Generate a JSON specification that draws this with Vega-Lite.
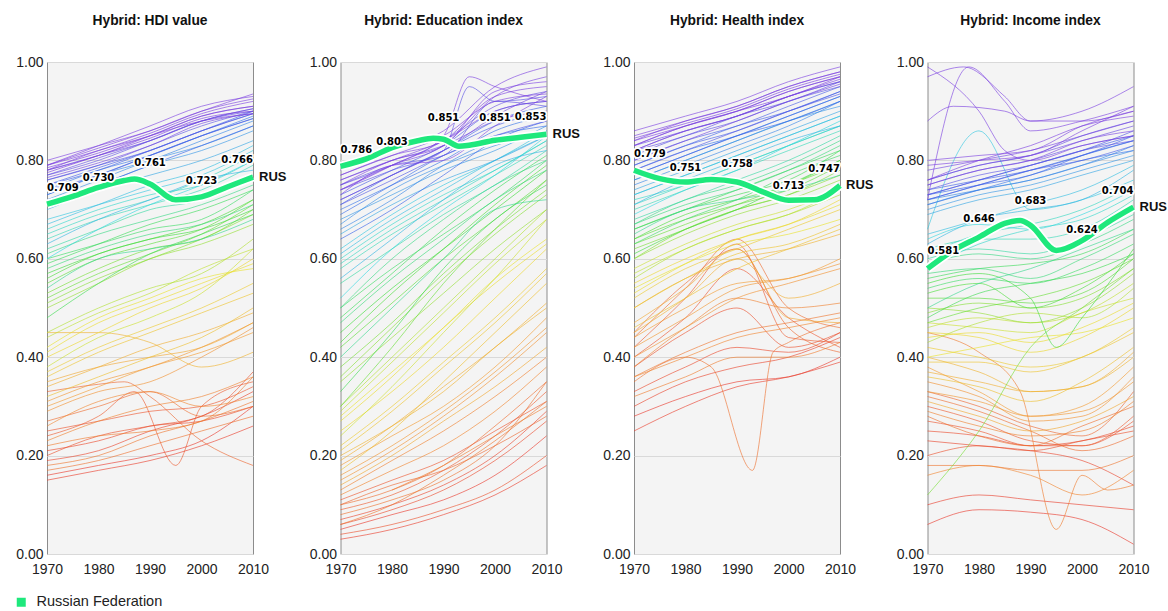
{
"$schema":"https://vega.github.io/schema/vega-lite/v6.json",
"autosize":{"type":"pad"},
"padding":{"left":14,"top":13,"right":0,"bottom":0},
"background":"#ffffff",
"spacing":87.5,
"bounds":"flush",
"resolve":{"scale":{"x":"independent","y":"independent"}},
"datasets":{
"bg":[
{"i":1,"x":1970,"a":0.16,"b":0.05,"c":0.28,"d":0.06},{"i":1,"x":1980,"a":0.18,"b":0.08,"c":0.32,"d":0.09},{"i":1,"x":1990,"a":0.2,"b":0.11,"c":0.35,"d":0.085},{"i":1,"x":2000,"a":0.23,"b":0.16,"c":0.36,"d":0.07},{"i":1,"x":2010,"a":0.3,"b":0.24,"c":0.4,"d":0.02},
{"i":1.5,"x":1970,"a":0.15,"b":0.03,"c":0.25,"d":0.1},{"i":1.5,"x":1980,"a":0.17,"b":0.05,"c":0.3,"d":0.12},{"i":1.5,"x":1990,"a":0.19,"b":0.08,"c":0.34,"d":0.11},{"i":1.5,"x":2000,"a":0.22,"b":0.12,"c":0.36,"d":0.1},{"i":1.5,"x":2010,"a":0.26,"b":0.18,"c":0.39,"d":0.09},
{"i":2,"x":1970,"a":0.19,"b":0.07,"c":0.3,"d":0.23},{"i":2,"x":1980,"a":0.21,"b":0.1,"c":0.35,"d":0.22},{"i":2,"x":1990,"a":0.25,"b":0.14,"c":0.38,"d":0.21},{"i":2,"x":2000,"a":0.28,"b":0.2,"c":0.4,"d":0.19},{"i":2,"x":2010,"a":0.33,"b":0.29,"c":0.44,"d":0.14},
{"i":2.5,"x":1970,"a":0.21,"b":0.06,"c":0.33,"d":0.25},{"i":2.5,"x":1980,"a":0.23,"b":0.09,"c":0.38,"d":0.24},{"i":2.5,"x":1990,"a":0.26,"b":0.13,"c":0.42,"d":0.22},{"i":2.5,"x":2000,"a":0.27,"b":0.19,"c":0.41,"d":0.23},{"i":2.5,"x":2010,"a":0.3,"b":0.27,"c":0.45,"d":0.26},
{"i":3,"x":1970,"a":0.2,"b":0.04,"c":0.38,"d":0.2},{"i":3,"x":1980,"a":0.24,"b":0.06,"c":0.45,"d":0.22},{"i":3,"x":1990,"a":0.26,"b":0.09,"c":0.5,"d":0.21},{"i":3,"x":2000,"a":0.28,"b":0.13,"c":0.42,"d":0.23},{"i":3,"x":2010,"a":0.37,"b":0.2,"c":0.45,"d":0.25},
{"i":3.5,"x":1970,"a":0.25,"b":0.11,"c":0.4,"d":0.27},{"i":3.5,"x":1980,"a":0.27,"b":0.15,"c":0.48,"d":0.25},{"i":3.5,"x":1990,"a":0.29,"b":0.19,"c":0.58,"d":0.22},{"i":3.5,"x":2000,"a":0.3,"b":0.25,"c":0.48,"d":0.22},{"i":3.5,"x":2010,"a":0.34,"b":0.31,"c":0.42,"d":0.27},
{"i":4,"x":1970,"a":0.24,"b":0.09,"c":0.42,"d":0.3},{"i":4,"x":1980,"a":0.28,"b":0.12,"c":0.52,"d":0.27},{"i":4,"x":1987,"a":0.33},{"i":4,"x":1990,"b":0.17,"c":0.63,"d":0.23},{"i":4,"x":1995,"a":0.18},{"i":4,"x":2000,"a":0.3,"b":0.24,"c":0.44,"d":0.22},{"i":4,"x":2010,"a":0.35,"b":0.33,"c":0.43,"d":0.28},
{"i":5,"x":1970,"a":0.33,"b":0.1,"c":0.45,"d":0.33},{"i":5,"x":1980,"a":0.345,"b":0.14,"c":0.55,"d":0.3},{"i":5,"x":1985,"a":0.35},{"i":5,"x":1990,"a":0.32,"b":0.17,"c":0.62,"d":0.26},{"i":5,"x":2000,"a":0.23,"b":0.22,"c":0.46,"d":0.24},{"i":5,"x":2010,"a":0.18,"b":0.28,"c":0.41,"d":0.33},
{"i":5.5,"x":1970,"a":0.27,"b":0.1,"c":0.44,"d":0.32},{"i":5.5,"x":1980,"a":0.3,"b":0.13,"c":0.54,"d":0.29},{"i":5.5,"x":1990,"a":0.33,"b":0.18,"c":0.64,"d":0.25},{"i":5.5,"x":2000,"a":0.28,"b":0.26,"c":0.5,"d":0.21},{"i":5.5,"x":2010,"a":0.3,"b":0.35,"c":0.46,"d":0.24},
{"i":6,"x":1970,"a":0.17,"b":0.08,"c":0.35,"d":0.28},{"i":6,"x":1980,"a":0.19,"b":0.11,"c":0.4,"d":0.24},{"i":6,"x":1985,"c":0.38},{"i":6,"x":1990,"a":0.22,"b":0.15,"d":0.22},{"i":6,"x":1993,"c":0.17},{"i":6,"x":1997,"c":0.41},{"i":6,"x":2000,"a":0.25,"b":0.22,"c":0.43,"d":0.26},{"i":6,"x":2010,"a":0.28,"b":0.35,"c":0.47,"d":0.3},
{"i":6.5,"x":1970,"a":0.18,"b":0.06,"c":0.36,"d":0.18},{"i":6.5,"x":1980,"a":0.2,"b":0.1,"c":0.41,"d":0.18},{"i":6.5,"x":1990,"a":0.24,"b":0.16,"c":0.45,"d":0.17},{"i":6.5,"x":2000,"a":0.27,"b":0.23,"c":0.47,"d":0.17},{"i":6.5,"x":2010,"a":0.31,"b":0.31,"c":0.49,"d":0.2},
{"i":7,"x":1970,"a":0.22,"c":0.32,"d":0.45},{"i":7,"x":1980,"a":0.24,"b":0.13,"c":0.36,"d":0.41},{"i":7,"x":1988,"d":0.33},{"i":7,"x":1990,"a":0.25,"b":0.18,"c":0.4},{"i":7,"x":1995,"d":0.05},{"i":7,"x":2000,"a":0.27,"b":0.24,"c":0.4,"d":0.16},{"i":7,"x":2005,"d":0.13},{"i":7,"x":2010,"a":0.36,"b":0.3,"c":0.43,"d":0.14},
{"i":7.5,"x":1970,"a":0.23,"b":0.13,"c":0.38,"d":0.29},{"i":7.5,"x":1980,"a":0.27,"b":0.19,"c":0.46,"d":0.26},{"i":7.5,"x":1990,"a":0.3,"b":0.25,"c":0.52,"d":0.24},{"i":7.5,"x":2000,"a":0.32,"b":0.32,"c":0.5,"d":0.25},{"i":7.5,"x":2010,"a":0.36,"b":0.4,"c":0.51,"d":0.31},
{"i":8,"x":1970,"a":0.26,"b":0.12,"c":0.36,"d":0.16},{"i":8,"x":1980,"a":0.31,"b":0.17,"c":0.4,"d":0.18},{"i":8,"x":1990,"a":0.33,"b":0.22,"c":0.44,"d":0.16},{"i":8,"x":2000,"a":0.3,"b":0.29,"c":0.46,"d":0.12},{"i":8,"x":2010,"a":0.32,"b":0.38,"c":0.48,"d":0.17},
{"i":9,"x":1970,"a":0.29,"b":0.15,"c":0.4,"d":0.35},{"i":9,"x":1980,"a":0.33,"b":0.21,"c":0.46,"d":0.32},{"i":9,"x":1990,"a":0.35,"b":0.28,"c":0.52,"d":0.27},{"i":9,"x":2000,"a":0.4,"b":0.36,"c":0.55,"d":0.28},{"i":9,"x":2010,"a":0.46,"b":0.45,"c":0.58,"d":0.36},
{"i":9.5,"x":1970,"a":0.31,"b":0.16,"c":0.42,"d":0.33},{"i":9.5,"x":1980,"a":0.35,"b":0.22,"c":0.48,"d":0.31},{"i":9.5,"x":1990,"a":0.38,"b":0.29,"c":0.54,"d":0.28},{"i":9.5,"x":2000,"a":0.42,"b":0.37,"c":0.56,"d":0.29},{"i":9.5,"x":2010,"a":0.47,"b":0.46,"c":0.59,"d":0.35},
{"i":10,"x":1970,"a":0.3,"b":0.18,"c":0.44,"d":0.38},{"i":10,"x":1980,"a":0.34,"b":0.24,"c":0.5,"d":0.33},{"i":10,"x":1990,"a":0.38,"b":0.3,"c":0.55,"d":0.28},{"i":10,"x":2000,"a":0.41,"b":0.38,"c":0.56,"d":0.3},{"i":10,"x":2010,"a":0.45,"b":0.48,"c":0.6,"d":0.38},
{"i":11,"x":1970,"a":0.35,"b":0.14,"c":0.47,"d":0.31},{"i":11,"x":1980,"a":0.38,"b":0.2,"c":0.54,"d":0.28},{"i":11,"x":1990,"a":0.4,"b":0.27,"c":0.62,"d":0.25},{"i":11,"x":2000,"a":0.42,"b":0.34,"c":0.48,"d":0.27},{"i":11,"x":2010,"a":0.47,"b":0.42,"c":0.47,"d":0.32},
{"i":11.5,"x":1970,"a":0.34,"b":0.19,"c":0.45,"d":0.37},{"i":11.5,"x":1980,"a":0.38,"b":0.26,"c":0.52,"d":0.35},{"i":11.5,"x":1990,"a":0.42,"b":0.34,"c":0.6,"d":0.33},{"i":11.5,"x":2000,"a":0.45,"b":0.42,"c":0.52,"d":0.34},{"i":11.5,"x":2010,"a":0.49,"b":0.51,"c":0.55,"d":0.41},
{"i":12,"x":1970,"a":0.45,"b":0.2,"c":0.5,"d":0.4},{"i":12,"x":1980,"a":0.45,"b":0.26,"c":0.56,"d":0.37},{"i":12,"x":1990,"a":0.43,"b":0.33,"c":0.6,"d":0.33},{"i":12,"x":2000,"a":0.38,"b":0.42,"c":0.62,"d":0.34},{"i":12,"x":2010,"a":0.41,"b":0.5,"c":0.65,"d":0.4},
{"i":13,"x":1970,"a":0.32,"b":0.17,"c":0.46,"d":0.36},{"i":13,"x":1980,"a":0.36,"b":0.25,"c":0.52,"d":0.34},{"i":13,"x":1990,"a":0.4,"b":0.35,"c":0.58,"d":0.31},{"i":13,"x":2000,"a":0.44,"b":0.45,"c":0.62,"d":0.35},{"i":13,"x":2010,"a":0.5,"b":0.55,"c":0.66,"d":0.42},
{"i":13.5,"x":1970,"a":0.36,"b":0.21,"c":0.5,"d":0.39},{"i":13.5,"x":1980,"a":0.41,"b":0.29,"c":0.56,"d":0.39},{"i":13.5,"x":1990,"a":0.45,"b":0.38,"c":0.61,"d":0.37},{"i":13.5,"x":2000,"a":0.49,"b":0.47,"c":0.63,"d":0.4},{"i":13.5,"x":2010,"a":0.53,"b":0.57,"c":0.67,"d":0.45},
{"i":14,"x":1970,"a":0.37,"b":0.22,"c":0.52,"d":0.42},{"i":14,"x":1980,"a":0.42,"b":0.3,"c":0.58,"d":0.4},{"i":14,"x":1990,"a":0.46,"b":0.39,"c":0.62,"d":0.38},{"i":14,"x":2000,"a":0.5,"b":0.48,"c":0.66,"d":0.4},{"i":14,"x":2010,"a":0.55,"b":0.58,"c":0.7,"d":0.46},
{"i":15,"x":1970,"a":0.4,"b":0.25,"c":0.55,"d":0.45},{"i":15,"x":1980,"a":0.45,"b":0.33,"c":0.6,"d":0.44},{"i":15,"x":1990,"a":0.5,"b":0.42,"c":0.64,"d":0.41},{"i":15,"x":2000,"a":0.54,"b":0.52,"c":0.67,"d":0.44},{"i":15,"x":2010,"a":0.6,"b":0.62,"c":0.72,"d":0.5},
{"i":15.5,"x":1970,"a":0.41,"b":0.27,"c":0.53,"d":0.44},{"i":15.5,"x":1980,"a":0.47,"b":0.36,"c":0.59,"d":0.45},{"i":15.5,"x":1990,"a":0.51,"b":0.46,"c":0.64,"d":0.43},{"i":15.5,"x":2000,"a":0.55,"b":0.55,"c":0.67,"d":0.46},{"i":15.5,"x":2010,"a":0.59,"b":0.63,"c":0.71,"d":0.51},
{"i":16,"x":1970,"a":0.42,"b":0.28,"c":0.54,"d":0.4},{"i":16,"x":1980,"a":0.48,"b":0.37,"c":0.59,"d":0.42},{"i":16,"x":1990,"a":0.52,"b":0.46,"c":0.63,"d":0.44},{"i":16,"x":2000,"a":0.56,"b":0.56,"c":0.65,"d":0.45},{"i":16,"x":2010,"a":0.58,"b":0.64,"c":0.68,"d":0.48},
{"i":17,"x":1970,"a":0.38,"b":0.24,"c":0.58,"d":0.47},{"i":17,"x":1980,"a":0.44,"b":0.34,"c":0.63,"d":0.46},{"i":17,"x":1990,"a":0.48,"b":0.45,"c":0.67,"d":0.45},{"i":17,"x":2000,"a":0.53,"b":0.56,"c":0.7,"d":0.49},{"i":17,"x":2010,"a":0.62,"b":0.68,"c":0.74,"d":0.52},
{"i":17.5,"x":1970,"a":0.44,"b":0.29,"c":0.57,"d":0.46},{"i":17.5,"x":1980,"a":0.49,"b":0.39,"c":0.62,"d":0.48},{"i":17.5,"x":1990,"a":0.53,"b":0.49,"c":0.66,"d":0.47},{"i":17.5,"x":2000,"a":0.58,"b":0.59,"c":0.69,"d":0.49},{"i":17.5,"x":2010,"a":0.62,"b":0.68,"c":0.74,"d":0.55},
{"i":18,"x":1970,"a":0.45,"b":0.3,"c":0.56,"d":0.43},{"i":18,"x":1980,"a":0.5,"b":0.4,"c":0.62,"d":0.47},{"i":18,"x":1990,"a":0.54,"b":0.5,"c":0.66,"d":0.49},{"i":18,"x":2000,"a":0.57,"b":0.6,"c":0.69,"d":0.48},{"i":18,"x":2010,"a":0.64,"b":0.7,"c":0.73,"d":0.54},
{"i":19,"x":1970,"a":0.5,"b":0.35,"c":0.6,"d":0.5},{"i":19,"x":1980,"a":0.55,"b":0.44,"c":0.65,"d":0.49},{"i":19,"x":1990,"a":0.6,"b":0.53,"c":0.69,"d":0.47},{"i":19,"x":2000,"a":0.63,"b":0.62,"c":0.72,"d":0.5},{"i":19,"x":2010,"a":0.67,"b":0.7,"c":0.76,"d":0.57},
{"i":19.5,"x":1970,"a":0.51,"b":0.36,"c":0.6,"d":0.49},{"i":19.5,"x":1980,"a":0.56,"b":0.46,"c":0.66,"d":0.51},{"i":19.5,"x":1990,"a":0.6,"b":0.56,"c":0.7,"d":0.5},{"i":19.5,"x":2000,"a":0.64,"b":0.65,"c":0.73,"d":0.52},{"i":19.5,"x":2010,"a":0.69,"b":0.73,"c":0.77,"d":0.58},
{"i":20,"x":1970,"a":0.53,"b":0.38,"c":0.62,"d":0.12},{"i":20,"x":1980,"a":0.58,"b":0.47,"c":0.66,"d":0.25},{"i":20,"x":1990,"a":0.62,"b":0.57,"c":0.7,"d":0.42},{"i":20,"x":2000,"a":0.64,"b":0.66,"c":0.73,"d":0.5},{"i":20,"x":2010,"a":0.7,"b":0.74,"c":0.78,"d":0.58},
{"i":20.5,"x":1970,"a":0.52,"b":0.3,"c":0.63,"d":0.47},{"i":20.5,"x":1980,"a":0.57,"b":0.42,"c":0.67,"d":0.5},{"i":20.5,"x":1990,"a":0.61,"b":0.55,"c":0.71,"d":0.52},{"i":20.5,"x":2000,"a":0.65,"b":0.66,"c":0.75,"d":0.55},{"i":20.5,"x":2010,"a":0.71,"b":0.76,"c":0.79,"d":0.6},
{"i":21,"x":1970,"a":0.55,"b":0.42,"c":0.64,"d":0.52},{"i":21,"x":1980,"a":0.6,"b":0.51,"c":0.68,"d":0.52},{"i":21,"x":1990,"a":0.63,"b":0.6,"c":0.71,"d":0.51},{"i":21,"x":2000,"a":0.66,"b":0.68,"c":0.74,"d":0.53},{"i":21,"x":2010,"a":0.72,"b":0.76,"c":0.79,"d":0.6},
{"i":21.5,"x":1970,"a":0.56,"b":0.43,"c":0.64,"d":0.53},{"i":21.5,"x":1980,"a":0.61,"b":0.53,"c":0.69,"d":0.55},{"i":21.5,"x":1990,"a":0.64,"b":0.62,"c":0.72,"d":0.5},{"i":21.5,"x":2000,"a":0.67,"b":0.71,"c":0.75,"d":0.54},{"i":21.5,"x":2010,"a":0.72,"b":0.79,"c":0.8,"d":0.61},
{"i":22,"x":1970,"a":0.57,"b":0.45,"c":0.61,"d":0.55},{"i":22,"x":1980,"a":0.61,"b":0.54,"c":0.66,"d":0.57},{"i":22,"x":1990,"a":0.64,"b":0.62,"c":0.7,"d":0.52},{"i":22,"x":1995,"d":0.42},{"i":22,"x":2000,"a":0.66,"b":0.7,"c":0.75,"d":0.48},{"i":22,"x":2010,"a":0.7,"b":0.78,"c":0.8,"d":0.62},
{"i":23,"x":1970,"a":0.48,"b":0.33,"c":0.66,"d":0.48},{"i":23,"x":1980,"a":0.55,"b":0.45,"c":0.7,"d":0.53},{"i":23,"x":1990,"a":0.61,"b":0.58,"c":0.73,"d":0.55},{"i":23,"x":2000,"a":0.65,"b":0.68,"c":0.76,"d":0.57},{"i":23,"x":2010,"a":0.69,"b":0.75,"c":0.82,"d":0.61},
{"i":23.5,"x":1970,"a":0.59,"b":0.48,"c":0.66,"d":0.56},{"i":23.5,"x":1980,"a":0.63,"b":0.57,"c":0.7,"d":0.58},{"i":23.5,"x":1990,"a":0.67,"b":0.66,"c":0.74,"d":0.59},{"i":23.5,"x":2000,"a":0.7,"b":0.74,"c":0.78,"d":0.61},{"i":23.5,"x":2010,"a":0.74,"b":0.81,"c":0.82,"d":0.66},
{"i":24,"x":1970,"a":0.6,"b":0.5,"c":0.63,"d":0.54},{"i":24,"x":1980,"a":0.63,"b":0.58,"c":0.68,"d":0.56},{"i":24,"x":1990,"a":0.66,"b":0.65,"c":0.72,"d":0.55},{"i":24,"x":2000,"a":0.68,"b":0.72,"c":0.77,"d":0.58},{"i":24,"x":2010,"a":0.74,"b":0.8,"c":0.81,"d":0.63},
{"i":25,"x":1970,"a":0.58,"b":0.47,"c":0.67,"d":0.57},{"i":25,"x":1980,"a":0.62,"b":0.56,"c":0.71,"d":0.58},{"i":25,"x":1990,"a":0.65,"b":0.64,"c":0.74,"d":0.56},{"i":25,"x":2000,"a":0.67,"b":0.72,"c":0.78,"d":0.6},{"i":25,"x":2010,"a":0.71,"b":0.78,"c":0.83,"d":0.65},
{"i":25.5,"x":1970,"a":0.61,"b":0.5,"c":0.67,"d":0.59},{"i":25.5,"x":1980,"a":0.65,"b":0.6,"c":0.72,"d":0.61},{"i":25.5,"x":1990,"a":0.68,"b":0.68,"c":0.75,"d":0.6},{"i":25.5,"x":2000,"a":0.71,"b":0.75,"c":0.79,"d":0.63},{"i":25.5,"x":2010,"a":0.75,"b":0.8,"c":0.84,"d":0.68},
{"i":26,"x":1970,"a":0.54,"b":0.4,"c":0.65,"d":0.5},{"i":26,"x":1980,"a":0.6,"b":0.5,"c":0.7,"d":0.55},{"i":26,"x":1990,"a":0.62,"b":0.6,"c":0.72,"d":0.58},{"i":26,"x":2000,"a":0.64,"b":0.7,"c":0.74,"d":0.62},{"i":26,"x":2010,"a":0.68,"b":0.72,"c":0.77,"d":0.66},
{"i":27,"x":1970,"a":0.62,"b":0.55,"c":0.68,"d":0.6},{"i":27,"x":1980,"a":0.66,"b":0.62,"c":0.72,"d":0.62},{"i":27,"x":1990,"a":0.7,"b":0.69,"c":0.76,"d":0.61},{"i":27,"x":2000,"a":0.72,"b":0.75,"c":0.8,"d":0.64},{"i":27,"x":2010,"a":0.77,"b":0.82,"c":0.85,"d":0.69},
{"i":28,"x":1970,"a":0.64,"b":0.58,"c":0.7,"d":0.62},{"i":28,"x":1980,"a":0.68,"b":0.65,"c":0.74,"d":0.64},{"i":28,"x":1990,"a":0.71,"b":0.71,"c":0.78,"d":0.64},{"i":28,"x":2000,"a":0.74,"b":0.77,"c":0.82,"d":0.66},{"i":28,"x":2010,"a":0.79,"b":0.83,"c":0.86,"d":0.72},
{"i":28.5,"x":1970,"a":0.65,"b":0.59,"c":0.71,"d":0.61},{"i":28.5,"x":1980,"a":0.69,"b":0.66,"c":0.75,"d":0.65},{"i":28.5,"x":1990,"a":0.72,"b":0.72,"c":0.79,"d":0.67},{"i":28.5,"x":2000,"a":0.76,"b":0.78,"c":0.83,"d":0.7},{"i":28.5,"x":2010,"a":0.81,"b":0.84,"c":0.87,"d":0.75},
{"i":29,"x":1970,"a":0.66,"b":0.6,"c":0.72,"d":0.58},{"i":29,"x":1980,"a":0.7,"b":0.67,"c":0.75,"d":0.63},{"i":29,"x":1990,"a":0.73,"b":0.73,"c":0.79,"d":0.66},{"i":29,"x":2000,"a":0.75,"b":0.78,"c":0.83,"d":0.68},{"i":29,"x":2010,"a":0.8,"b":0.84,"c":0.87,"d":0.73},
{"i":30,"x":1970,"a":0.6,"b":0.52,"c":0.69,"d":0.64},{"i":30,"x":1980,"a":0.66,"b":0.62,"c":0.74,"d":0.67},{"i":30,"x":1990,"a":0.71,"b":0.7,"c":0.78,"d":0.66},{"i":30,"x":2000,"a":0.75,"b":0.77,"c":0.83,"d":0.69},{"i":30,"x":2010,"a":0.8,"b":0.85,"c":0.88,"d":0.74},
{"i":31,"x":1970,"a":0.68,"b":0.62,"c":0.73,"d":0.66},{"i":31,"x":1980,"a":0.71,"b":0.69,"c":0.77,"d":0.86},{"i":31,"x":1990,"a":0.74,"b":0.75,"c":0.81,"d":0.7},{"i":31,"x":2000,"a":0.77,"b":0.8,"c":0.85,"d":0.72},{"i":31,"x":2010,"a":0.82,"b":0.86,"c":0.89,"d":0.76},
{"i":31.5,"x":1970,"a":0.67,"b":0.61,"c":0.73,"d":0.65},{"i":31.5,"x":1980,"a":0.71,"b":0.68,"c":0.77,"d":0.68},{"i":31.5,"x":1990,"a":0.75,"b":0.74,"c":0.81,"d":0.71},{"i":31.5,"x":2000,"a":0.78,"b":0.8,"c":0.85,"d":0.74},{"i":31.5,"x":2010,"a":0.83,"b":0.85,"c":0.89,"d":0.79},
{"i":32,"x":1970,"a":0.63,"b":0.56,"c":0.71,"d":0.63},{"i":32,"x":1980,"a":0.68,"b":0.64,"c":0.76,"d":0.68},{"i":32,"x":1990,"a":0.72,"b":0.72,"c":0.8,"d":0.7},{"i":32,"x":2000,"a":0.76,"b":0.79,"c":0.84,"d":0.72},{"i":32,"x":2010,"a":0.78,"b":0.82,"c":0.87,"d":0.78},
{"i":33,"x":1970,"a":0.7,"b":0.65,"c":0.74,"d":0.69},{"i":33,"x":1980,"a":0.74,"b":0.71,"c":0.78,"d":0.72},{"i":33,"x":1990,"a":0.77,"b":0.76,"c":0.82,"d":0.74},{"i":33,"x":2000,"a":0.8,"b":0.8,"c":0.86,"d":0.77},{"i":33,"x":2010,"a":0.84,"b":0.85,"c":0.9,"d":0.8},
{"i":34,"x":1970,"a":0.72,"b":0.68,"c":0.76,"d":0.7},{"i":34,"x":1980,"a":0.75,"b":0.73,"c":0.8,"d":0.73},{"i":34,"x":1990,"a":0.79,"b":0.78,"c":0.84,"d":0.75},{"i":34,"x":2000,"a":0.82,"b":0.82,"c":0.88,"d":0.78},{"i":34,"x":2010,"a":0.86,"b":0.87,"c":0.91,"d":0.81},
{"i":34.5,"x":1970,"a":0.72,"b":0.67,"c":0.76,"d":0.71},{"i":34.5,"x":1980,"a":0.76,"b":0.74,"c":0.8,"d":0.74},{"i":34.5,"x":1990,"a":0.8,"b":0.79,"c":0.84,"d":0.76},{"i":34.5,"x":2000,"a":0.83,"b":0.83,"c":0.88,"d":0.79},{"i":34.5,"x":2010,"a":0.87,"b":0.86,"c":0.92,"d":0.82},
{"i":35,"x":1970,"a":0.73,"b":0.66,"c":0.75,"d":0.72},{"i":35,"x":1980,"a":0.77,"b":0.72,"c":0.79,"d":0.74},{"i":35,"x":1990,"a":0.8,"b":0.79,"c":0.83,"d":0.76},{"i":35,"x":2000,"a":0.84,"b":0.84,"c":0.87,"d":0.79},{"i":35,"x":2010,"a":0.88,"b":0.86,"c":0.92,"d":0.83},
{"i":36,"x":1970,"a":0.74,"b":0.7,"c":0.78,"d":0.71},{"i":36,"x":1980,"a":0.78,"b":0.75,"c":0.82,"d":0.74},{"i":36,"x":1990,"a":0.81,"b":0.8,"c":0.85,"d":0.77},{"i":36,"x":2000,"a":0.85,"b":0.86,"c":0.89,"d":0.8},{"i":36,"x":2010,"a":0.89,"b":0.89,"c":0.93,"d":0.82},
{"i":36.5,"x":1970,"a":0.73,"b":0.69,"c":0.77,"d":0.72},{"i":36.5,"x":1980,"a":0.77,"b":0.75,"c":0.81,"d":0.75},{"i":36.5,"x":1990,"a":0.81,"b":0.81,"c":0.85,"d":0.78},{"i":36.5,"x":2000,"a":0.85,"b":0.85,"c":0.89,"d":0.81},{"i":36.5,"x":2010,"a":0.885,"b":0.87,"c":0.93,"d":0.84},
{"i":37,"x":1970,"a":0.71,"b":0.64,"c":0.77,"d":0.73},{"i":37,"x":1980,"a":0.75,"b":0.7,"c":0.81,"d":0.75},{"i":37,"x":1990,"a":0.79,"b":0.77,"c":0.85,"d":0.77},{"i":37,"x":2000,"a":0.83,"b":0.84,"c":0.88,"d":0.81},{"i":37,"x":2010,"a":0.87,"b":0.88,"c":0.92,"d":0.84},
{"i":38,"x":1970,"a":0.75,"b":0.72,"c":0.79,"d":0.74},{"i":38,"x":1980,"a":0.78,"b":0.77,"c":0.83,"d":0.76},{"i":38,"x":1990,"a":0.82,"b":0.82,"c":0.87,"d":0.78},{"i":38,"x":2000,"a":0.86,"b":0.88,"c":0.9,"d":0.81},{"i":38,"x":2010,"a":0.9,"b":0.91,"c":0.94,"d":0.85},
{"i":38.5,"x":1970,"a":0.75,"b":0.71,"c":0.79,"d":0.73},{"i":38.5,"x":1980,"a":0.785,"b":0.77,"c":0.83,"d":0.76},{"i":38.5,"x":1990,"a":0.82,"b":0.82,"c":0.86,"d":0.79},{"i":38.5,"x":2000,"a":0.86,"b":0.87,"c":0.9,"d":0.82},{"i":38.5,"x":2010,"a":0.895,"b":0.9,"c":0.94,"d":0.85},
{"i":39,"x":1970,"a":0.74,"b":0.73,"c":0.8,"d":0.72},{"i":39,"x":1980,"a":0.77,"b":0.78,"c":0.84,"d":0.75},{"i":39,"x":1990,"a":0.81,"b":0.83,"c":0.87,"d":0.78},{"i":39,"x":2000,"a":0.85,"b":0.9,"c":0.91,"d":0.8},{"i":39,"x":2010,"a":0.885,"b":0.92,"c":0.95,"d":0.83},
{"i":40,"x":1970,"a":0.76,"b":0.71,"c":0.78,"d":0.73},{"i":40,"x":1980,"a":0.79,"b":0.76,"c":0.82,"d":0.76},{"i":40,"x":1990,"a":0.82,"b":0.81,"c":0.86,"d":0.79},{"i":40,"x":2000,"a":0.86,"b":0.85,"c":0.9,"d":0.82},{"i":40,"x":2010,"a":0.895,"b":0.88,"c":0.935,"d":0.86},
{"i":41,"x":1970,"a":0.76,"b":0.74,"c":0.81,"d":0.74},{"i":41,"x":1980,"a":0.79,"b":0.78,"c":0.85,"d":0.77},{"i":41,"x":1990,"a":0.83,"b":0.82,"c":0.88,"d":0.79},{"i":41,"x":1995,"b":0.95},{"i":41,"x":2000,"a":0.87,"b":0.92,"c":0.92,"d":0.82},{"i":41,"x":2010,"a":0.9,"b":0.93,"c":0.95,"d":0.84},
{"i":42,"x":1970,"a":0.77,"b":0.75,"c":0.82,"d":0.75},{"i":42,"x":1980,"a":0.8,"b":0.79,"c":0.85,"d":0.78},{"i":42,"x":1990,"a":0.84,"b":0.81,"c":0.89,"d":0.8},{"i":42,"x":2000,"a":0.88,"b":0.92,"c":0.92,"d":0.83},{"i":42,"x":2010,"a":0.9,"b":0.91,"c":0.96,"d":0.85},
{"i":42.5,"x":1970,"a":0.77,"b":0.75,"c":0.82,"d":0.76},{"i":42.5,"x":1980,"a":0.805,"b":0.79,"c":0.86,"d":0.79},{"i":42.5,"x":1990,"a":0.84,"b":0.84,"c":0.89,"d":0.81},{"i":42.5,"x":2000,"a":0.88,"b":0.91,"c":0.93,"d":0.85},{"i":42.5,"x":2010,"a":0.905,"b":0.94,"c":0.96,"d":0.88},
{"i":43,"x":1970,"a":0.78,"b":0.76,"c":0.83,"d":0.76},{"i":43,"x":1980,"a":0.81,"b":0.8,"c":0.86,"d":0.79},{"i":43,"x":1990,"a":0.84,"b":0.83,"c":0.89,"d":0.81},{"i":43,"x":2000,"a":0.88,"b":0.88,"c":0.93,"d":0.84},{"i":43,"x":2010,"a":0.905,"b":0.9,"c":0.96,"d":0.87},
{"i":44,"x":1970,"a":0.765,"b":0.72,"c":0.8,"d":0.78},{"i":44,"x":1980,"a":0.795,"b":0.77,"c":0.84,"d":0.8},{"i":44,"x":1990,"a":0.83,"b":0.82,"c":0.88,"d":0.82},{"i":44,"x":2000,"a":0.875,"b":0.89,"c":0.92,"d":0.85},{"i":44,"x":2010,"a":0.895,"b":0.94,"c":0.955,"d":0.88},
{"i":44.5,"x":1970,"a":0.78,"b":0.74,"c":0.83,"d":0.75},{"i":44.5,"x":1980,"a":0.81,"b":0.79,"c":0.87,"d":0.78},{"i":44.5,"x":1990,"a":0.85,"b":0.83,"c":0.9,"d":0.8},{"i":44.5,"x":2000,"a":0.89,"b":0.93,"c":0.94,"d":0.84},{"i":44.5,"x":2010,"a":0.91,"b":0.97,"c":0.97,"d":0.86},
{"i":45,"x":1970,"a":0.78,"b":0.77,"c":0.84,"d":0.79},{"i":45,"x":1980,"a":0.82,"b":0.81,"c":0.87,"d":0.8},{"i":45,"x":1990,"a":0.85,"b":0.84,"c":0.9,"d":0.81},{"i":45,"x":2000,"a":0.89,"b":0.93,"c":0.94,"d":0.86},{"i":45,"x":2010,"a":0.91,"b":0.95,"c":0.97,"d":0.91},
{"i":46,"x":1970,"a":0.79,"b":0.78,"c":0.85,"d":0.76},{"i":46,"x":1980,"a":0.82,"b":0.82,"c":0.88,"d":0.8},{"i":46,"x":1990,"a":0.855,"b":0.86,"c":0.91,"d":0.83},{"i":46,"x":2000,"a":0.895,"b":0.95,"c":0.95,"d":0.87},{"i":46,"x":2010,"a":0.92,"b":0.99,"c":0.98,"d":0.89},
{"i":47,"x":1970,"a":0.8,"b":0.74,"c":0.86,"d":0.99},{"i":47,"x":1980,"a":0.83,"b":0.79,"c":0.89,"d":0.9},{"i":47,"x":1985,"d":0.82},{"i":47,"x":1990,"a":0.86,"b":0.85,"c":0.92,"d":0.8},{"i":47,"x":1995,"b":0.97},{"i":47,"x":2000,"a":0.9,"b":0.95,"c":0.96,"d":0.83},{"i":47,"x":2010,"a":0.935,"b":0.92,"c":0.99,"d":0.85},
{"i":48,"x":1970,"a":0.79,"b":0.76,"c":0.83,"d":0.97},{"i":48,"x":1977,"d":0.99},{"i":48,"x":1980,"a":0.83,"b":0.8,"c":0.87},{"i":48,"x":1985,"d":0.93},{"i":48,"x":1990,"a":0.87,"b":0.84,"c":0.9,"d":0.88},{"i":48,"x":2000,"a":0.91,"b":0.9,"c":0.93,"d":0.88},{"i":48,"x":2010,"a":0.93,"b":0.92,"c":0.97,"d":0.9},
{"i":48.5,"x":1970,"a":0.79,"b":0.77,"c":0.84,"d":0.8},{"i":48.5,"x":1980,"a":0.825,"b":0.81,"c":0.88,"d":0.81},{"i":48.5,"x":1990,"a":0.86,"b":0.85,"c":0.91,"d":0.82},{"i":48.5,"x":2000,"a":0.9,"b":0.92,"c":0.95,"d":0.87},{"i":48.5,"x":2010,"a":0.925,"b":0.935,"c":0.98,"d":0.9},
{"i":49,"x":1970,"a":0.775,"b":0.73,"c":0.82,"d":0.88},{"i":49,"x":1975,"d":0.91},{"i":49,"x":1980,"a":0.81,"b":0.79,"c":0.86},{"i":49,"x":1985,"d":0.9},{"i":49,"x":1990,"a":0.845,"b":0.8,"c":0.89,"d":0.88},{"i":49,"x":2000,"a":0.885,"b":0.87,"c":0.93,"d":0.9},{"i":49,"x":2010,"a":0.9,"b":0.93,"c":0.965,"d":0.95},
{"i":50,"x":1970,"a":0.785,"b":0.75,"c":0.845,"d":0.72},{"i":50,"x":1978,"d":0.99},{"i":50,"x":1980,"a":0.815,"b":0.8,"c":0.875},{"i":50,"x":1985,"d":0.92},{"i":50,"x":1990,"a":0.85,"b":0.83,"c":0.905,"d":0.86},{"i":50,"x":2000,"a":0.88,"b":0.94,"c":0.945,"d":0.88},{"i":50,"x":2010,"a":0.895,"b":0.96,"c":0.975,"d":0.91}
],
"rus":[
{"x":1970,"a":0.711,"b":0.788,"c":0.78,"d":0.58,"la":0.709,"lb":0.786,"lc":0.779,"ld":0.581},
{"x":1975,"a":0.727,"b":0.803,"c":0.763,"d":0.617},
{"x":1980,"a":0.745,"b":0.826,"c":0.756,"d":0.644,"la":0.73,"lb":0.803,"lc":0.751,"ld":0.646},
{"x":1985,"a":0.759,"b":0.84,"c":0.761,"d":0.672},
{"x":1987,"a":0.762},
{"x":1988,"b":0.845,"d":0.678},
{"x":1990,"a":0.752,"b":0.843,"c":0.756,"d":0.668,"la":0.761,"lb":0.851,"lc":0.758,"ld":0.683},
{"x":1993,"b":0.829},
{"x":1995,"a":0.72,"b":0.831,"c":0.736,"d":0.617},
{"x":2000,"a":0.726,"b":0.841,"c":0.719,"d":0.637,"la":0.723,"lb":0.851,"lc":0.713,"ld":0.624},
{"x":2005,"a":0.746,"b":0.847,"c":0.72,"d":0.674},
{"x":2010,"a":0.766,"b":0.853,"c":0.749,"d":0.705,"la":0.766,"lb":0.853,"lc":0.747,"ld":0.704}
]
},
"hconcat":[
{"title":"Hybrid: HDI value","width":206,"height":492,
"encoding":{"x":{"field":"x","type":"quantitative","title":null,"scale":{"domain":[1970,2010]},"axis":{"values":[1970,1980,1990,2000,2010],"format":"d"}},
"y":{"field":"a","type":"quantitative","title":null,"scale":{"domain":[0,1]},"axis":{"values":[0,0.2,0.4,0.6,0.8,1],"format":".2f"}}},
"layer":[
{"data":{"name":"bg"},"mark":{"type":"line","strokeWidth":1,"opacity":0.62},"encoding":{"detail":{"field":"i","type":"nominal"},"stroke":{"field":"i","type":"quantitative","scale":{"domain":[1,10,16,22,30,37,45],"range":["#e8392c","#f29a2e","#e9e22c","#3ddc3a","#2fd6df","#3563e9","#7a3fe0"],"clamp":true,"interpolate":"rgb"},"legend":null}}},
{"data":{"name":"rus"},"mark":{"type":"line","color":"#ffffff","strokeWidth":9},"encoding":{}},
{"data":{"name":"rus"},"mark":{"type":"line","color":"#1ee87c","strokeWidth":5.5},"encoding":{}},
{"data":{"name":"rus"},"transform":[{"filter":"isValid(datum.la)"}],"mark":{"type":"text","font":"DejaVu Sans","fontSize":10,"fontWeight":"bold","baseline":"middle","dy":-17,"align":{"expr":"datum.x == 1970 ? 'left' : datum.x == 2010 ? 'right' : 'center'"},"fill":"#ffffff","stroke":"#ffffff","strokeWidth":3.5,"strokeJoin":"round"},"encoding":{"y":{"field":"la","type":"quantitative","title":null,"scale":{"domain":[0,1]}},"text":{"field":"la","type":"quantitative","format":".3f"}}},
{"data":{"name":"rus"},"transform":[{"filter":"isValid(datum.la)"}],"mark":{"type":"text","font":"DejaVu Sans","fontSize":10,"fontWeight":"bold","baseline":"middle","dy":-17,"align":{"expr":"datum.x == 1970 ? 'left' : datum.x == 2010 ? 'right' : 'center'"},"fill":"#000000"},"encoding":{"y":{"field":"la","type":"quantitative","title":null,"scale":{"domain":[0,1]}},"text":{"field":"la","type":"quantitative","format":".3f"}}},
{"data":{"name":"rus"},"transform":[{"filter":"datum.x == 2010"}],"mark":{"type":"text","font":"Liberation Sans","fontSize":13,"fontWeight":"bold","align":"left","baseline":"middle","dx":6,"color":"#111111"},"encoding":{"text":{"value":"RUS"}}},
{"data":{"values":[]},"mark":{"type":"square","size":81,"opacity":1},"encoding":{"color":{"datum":"Russian Federation","type":"nominal","scale":{"range":["#1ee87c"]},"legend":{"title":null,"orient":"none","legendX":-33,"legendY":533,"labelFont":"Liberation Sans","labelFontSize":14.5,"labelColor":"#222222","labelOffset":8,"symbolSize":81,"symbolType":"square","symbolOpacity":1}}}}
]},
{"title":"Hybrid: Education index","width":206,"height":492,
"encoding":{"x":{"field":"x","type":"quantitative","title":null,"scale":{"domain":[1970,2010]},"axis":{"values":[1970,1980,1990,2000,2010],"format":"d"}},
"y":{"field":"b","type":"quantitative","title":null,"scale":{"domain":[0,1]},"axis":{"values":[0,0.2,0.4,0.6,0.8,1],"format":".2f"}}},
"layer":[
{"data":{"name":"bg"},"mark":{"type":"line","strokeWidth":1,"opacity":0.62},"encoding":{"detail":{"field":"i","type":"nominal"},"stroke":{"field":"i","type":"quantitative","scale":{"domain":[1,10,16,22,30,37,45],"range":["#e8392c","#f29a2e","#e9e22c","#3ddc3a","#2fd6df","#3563e9","#7a3fe0"],"clamp":true,"interpolate":"rgb"},"legend":null}}},
{"data":{"name":"rus"},"mark":{"type":"line","color":"#ffffff","strokeWidth":9},"encoding":{}},
{"data":{"name":"rus"},"mark":{"type":"line","color":"#1ee87c","strokeWidth":5.5},"encoding":{}},
{"data":{"name":"rus"},"transform":[{"filter":"isValid(datum.lb)"}],"mark":{"type":"text","font":"DejaVu Sans","fontSize":10,"fontWeight":"bold","baseline":"middle","dy":-17,"align":{"expr":"datum.x == 1970 ? 'left' : datum.x == 2010 ? 'right' : 'center'"},"fill":"#ffffff","stroke":"#ffffff","strokeWidth":3.5,"strokeJoin":"round"},"encoding":{"y":{"field":"lb","type":"quantitative","title":null,"scale":{"domain":[0,1]}},"text":{"field":"lb","type":"quantitative","format":".3f"}}},
{"data":{"name":"rus"},"transform":[{"filter":"isValid(datum.lb)"}],"mark":{"type":"text","font":"DejaVu Sans","fontSize":10,"fontWeight":"bold","baseline":"middle","dy":-17,"align":{"expr":"datum.x == 1970 ? 'left' : datum.x == 2010 ? 'right' : 'center'"},"fill":"#000000"},"encoding":{"y":{"field":"lb","type":"quantitative","title":null,"scale":{"domain":[0,1]}},"text":{"field":"lb","type":"quantitative","format":".3f"}}},
{"data":{"name":"rus"},"transform":[{"filter":"datum.x == 2010"}],"mark":{"type":"text","font":"Liberation Sans","fontSize":13,"fontWeight":"bold","align":"left","baseline":"middle","dx":6,"color":"#111111"},"encoding":{"text":{"value":"RUS"}}}
]},
{"title":"Hybrid: Health index","width":206,"height":492,
"encoding":{"x":{"field":"x","type":"quantitative","title":null,"scale":{"domain":[1970,2010]},"axis":{"values":[1970,1980,1990,2000,2010],"format":"d"}},
"y":{"field":"c","type":"quantitative","title":null,"scale":{"domain":[0,1]},"axis":{"values":[0,0.2,0.4,0.6,0.8,1],"format":".2f"}}},
"layer":[
{"data":{"name":"bg"},"mark":{"type":"line","strokeWidth":1,"opacity":0.62},"encoding":{"detail":{"field":"i","type":"nominal"},"stroke":{"field":"i","type":"quantitative","scale":{"domain":[1,10,16,22,30,37,45],"range":["#e8392c","#f29a2e","#e9e22c","#3ddc3a","#2fd6df","#3563e9","#7a3fe0"],"clamp":true,"interpolate":"rgb"},"legend":null}}},
{"data":{"name":"rus"},"mark":{"type":"line","color":"#ffffff","strokeWidth":9},"encoding":{}},
{"data":{"name":"rus"},"mark":{"type":"line","color":"#1ee87c","strokeWidth":5.5},"encoding":{}},
{"data":{"name":"rus"},"transform":[{"filter":"isValid(datum.lc)"}],"mark":{"type":"text","font":"DejaVu Sans","fontSize":10,"fontWeight":"bold","baseline":"middle","dy":-17,"align":{"expr":"datum.x == 1970 ? 'left' : datum.x == 2010 ? 'right' : 'center'"},"fill":"#ffffff","stroke":"#ffffff","strokeWidth":3.5,"strokeJoin":"round"},"encoding":{"y":{"field":"lc","type":"quantitative","title":null,"scale":{"domain":[0,1]}},"text":{"field":"lc","type":"quantitative","format":".3f"}}},
{"data":{"name":"rus"},"transform":[{"filter":"isValid(datum.lc)"}],"mark":{"type":"text","font":"DejaVu Sans","fontSize":10,"fontWeight":"bold","baseline":"middle","dy":-17,"align":{"expr":"datum.x == 1970 ? 'left' : datum.x == 2010 ? 'right' : 'center'"},"fill":"#000000"},"encoding":{"y":{"field":"lc","type":"quantitative","title":null,"scale":{"domain":[0,1]}},"text":{"field":"lc","type":"quantitative","format":".3f"}}},
{"data":{"name":"rus"},"transform":[{"filter":"datum.x == 2010"}],"mark":{"type":"text","font":"Liberation Sans","fontSize":13,"fontWeight":"bold","align":"left","baseline":"middle","dx":6,"color":"#111111"},"encoding":{"text":{"value":"RUS"}}}
]},
{"title":"Hybrid: Income index","width":206,"height":492,
"encoding":{"x":{"field":"x","type":"quantitative","title":null,"scale":{"domain":[1970,2010]},"axis":{"values":[1970,1980,1990,2000,2010],"format":"d"}},
"y":{"field":"d","type":"quantitative","title":null,"scale":{"domain":[0,1]},"axis":{"values":[0,0.2,0.4,0.6,0.8,1],"format":".2f"}}},
"layer":[
{"data":{"name":"bg"},"mark":{"type":"line","strokeWidth":1,"opacity":0.62},"encoding":{"detail":{"field":"i","type":"nominal"},"stroke":{"field":"i","type":"quantitative","scale":{"domain":[1,10,16,22,30,37,45],"range":["#e8392c","#f29a2e","#e9e22c","#3ddc3a","#2fd6df","#3563e9","#7a3fe0"],"clamp":true,"interpolate":"rgb"},"legend":null}}},
{"data":{"name":"rus"},"mark":{"type":"line","color":"#ffffff","strokeWidth":9},"encoding":{}},
{"data":{"name":"rus"},"mark":{"type":"line","color":"#1ee87c","strokeWidth":5.5},"encoding":{}},
{"data":{"name":"rus"},"transform":[{"filter":"isValid(datum.ld)"}],"mark":{"type":"text","font":"DejaVu Sans","fontSize":10,"fontWeight":"bold","baseline":"middle","dy":-17,"align":{"expr":"datum.x == 1970 ? 'left' : datum.x == 2010 ? 'right' : 'center'"},"fill":"#ffffff","stroke":"#ffffff","strokeWidth":3.5,"strokeJoin":"round"},"encoding":{"y":{"field":"ld","type":"quantitative","title":null,"scale":{"domain":[0,1]}},"text":{"field":"ld","type":"quantitative","format":".3f"}}},
{"data":{"name":"rus"},"transform":[{"filter":"isValid(datum.ld)"}],"mark":{"type":"text","font":"DejaVu Sans","fontSize":10,"fontWeight":"bold","baseline":"middle","dy":-17,"align":{"expr":"datum.x == 1970 ? 'left' : datum.x == 2010 ? 'right' : 'center'"},"fill":"#000000"},"encoding":{"y":{"field":"ld","type":"quantitative","title":null,"scale":{"domain":[0,1]}},"text":{"field":"ld","type":"quantitative","format":".3f"}}},
{"data":{"name":"rus"},"transform":[{"filter":"datum.x == 2010"}],"mark":{"type":"text","font":"Liberation Sans","fontSize":13,"fontWeight":"bold","align":"left","baseline":"middle","dx":6,"color":"#111111"},"encoding":{"text":{"value":"RUS"}}}
]}
],
"config":{
"view":{"fill":"#f4f4f4","stroke":"#8c8c8c","strokeWidth":1},
"axis":{"labelFont":"Liberation Sans","labelFontSize":14,"labelColor":"#222222","ticks":false,"domain":false,"gridColor":"#d9d9d9","gridWidth":1},
"axisX":{"labelPadding":8,"grid":false,"labelFlush":false,"labelOverlap":false},
"axisY":{"labelPadding":4},
"title":{"font":"Liberation Sans","fontSize":13.8,"fontWeight":"bold","color":"#111111","offset":27,"baseline":"alphabetic","frame":"group","anchor":"middle"},
"mark":{"invalid":"filter"},
"line":{"interpolate":"monotone"}
}
}
